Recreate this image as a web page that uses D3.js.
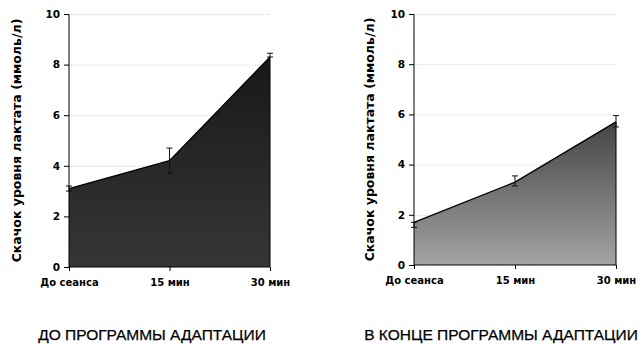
<!DOCTYPE html>
<html><head><meta charset="utf-8">
<script src="https://cdn.jsdelivr.net/npm/d3@7"></script>
<style>body{margin:0;background:#fff}svg{display:block}</style>
</head><body>
<svg id="c" width="642" height="344"></svg>
<script>
const categories = ["До сеанса", "15 мин", "30 мин"];
const beforeValues = [3.1, 4.2, 8.3];
const beforeErrLow = [3.0, 3.7, 8.3];
const beforeErrHigh = [3.2, 4.7, 8.45];
const afterValues = [1.7, 3.3, 5.7];
const afterErrLow = [1.5, 3.15, 5.5];
const afterErrHigh = [1.7, 3.55, 5.95];
const yTicks = [0, 2, 4, 6, 8, 10];
const yTitle = "Скачок уровня лактата (ммоль/л)";
const panelTitles = ["ДО ПРОГРАММЫ АДАПТАЦИИ", "В КОНЦЕ ПРОГРАММЫ АДАПТАЦИИ"];

const svg = d3.select("#c");
const defs = svg.append("defs");

const panels = [
  {x0: 69, x1: 270, y0: 267, y1: 14, vals: beforeValues, lo: beforeErrLow, hi: beforeErrHigh,
   gTop: "#181818", gBot: "#363636", titleX: 21, capX: 152, cap: panelTitles[0], id: "g1"},
  {x0: 414, x1: 616, y0: 265, y1: 14, vals: afterValues, lo: afterErrLow, hi: afterErrHigh,
   gTop: "#454545", gBot: "#a3a3a3", titleX: 374, capX: 501, cap: panelTitles[1], id: "g2"}
];

panels.forEach(p => {
  const x = d3.scalePoint().domain(categories).range([p.x0, p.x1]);
  const y = d3.scaleLinear().domain([0, 10]).range([p.y0, p.y1]);
  const g = svg.append("g");

  g.selectAll("line.grid").data(yTicks.filter(t => t > 0)).join("line")
    .attr("x1", p.x0).attr("x2", p.x1)
    .attr("y1", d => y(d) + 0.5).attr("y2", d => y(d) + 0.5)
    .attr("stroke", "#d4d4d4").attr("stroke-width", 1).attr("stroke-dasharray", "1,1");

  const grad = defs.append("linearGradient").attr("id", p.id)
    .attr("gradientUnits", "userSpaceOnUse")
    .attr("x1", 0).attr("x2", 0)
    .attr("y1", y(d3.max(p.vals))).attr("y2", y(0));
  grad.append("stop").attr("offset", 0).attr("stop-color", p.gTop);
  grad.append("stop").attr("offset", 1).attr("stop-color", p.gBot);

  const data = categories.map((c, i) => ({c, v: p.vals[i], lo: p.lo[i], hi: p.hi[i]}));
  const area = d3.area().x(d => x(d.c)).y0(y(0)).y1(d => y(d.v));
  g.append("path").datum(data).attr("d", area).attr("fill", `url(#${p.id})`);
  const line = d3.line().x(d => x(d.c)).y(d => y(d.v));
  g.append("path").datum(data).attr("d", line).attr("fill", "none")
    .attr("stroke", "#000").attr("stroke-width", 1.3);
  g.append("line").attr("x1", x(categories[2])).attr("x2", x(categories[2]))
    .attr("y1", y(0)).attr("y2", y(p.vals[2])).attr("stroke", "#000").attr("stroke-width", 1);

  const eb = g.selectAll("g.eb").data(data).join("g");
  eb.append("line").attr("x1", d => x(d.c)).attr("x2", d => x(d.c))
    .attr("y1", d => y(d.lo)).attr("y2", d => y(d.hi)).attr("stroke", "#111").attr("stroke-width", 1);
  eb.append("line").attr("x1", d => x(d.c) - 3).attr("x2", d => x(d.c) + 3)
    .attr("y1", d => y(d.hi)).attr("y2", d => y(d.hi)).attr("stroke", "#111").attr("stroke-width", 1);
  eb.append("line").attr("x1", d => x(d.c) - 3).attr("x2", d => x(d.c) + 3)
    .attr("y1", d => y(d.lo)).attr("y2", d => y(d.lo)).attr("stroke", "#111").attr("stroke-width", 1);

  const ya = g.append("g").attr("transform", `translate(${p.x0},0)`)
    .call(d3.axisLeft(y).tickValues(yTicks).tickSize(5).tickPadding(4).tickFormat(d3.format("d")));
  ya.select(".domain").attr("stroke", "#000").attr("d", `M-5,${p.y1 + 0.5}H0V${p.y0}`);
  ya.selectAll("text").attr("font-family", "DejaVu Sans").attr("font-weight", "bold")
    .attr("font-size", 10.5).attr("fill", "#000");

  const xa = g.append("g").attr("transform", `translate(0,${p.y0})`)
    .call(d3.axisBottom(x).tickSize(4).tickPadding(8));
  xa.select(".domain").attr("stroke", "#000").attr("d", `M${p.x0},0H${p.x1}`);
  xa.selectAll("text").attr("font-family", "DejaVu Sans").attr("font-weight", "bold")
    .attr("font-size", 10).attr("fill", "#000");

  svg.append("text")
    .attr("transform", `translate(${p.titleX},${(p.y0 + p.y1) / 2}) rotate(-90)`)
    .attr("text-anchor", "middle")
    .attr("font-family", "DejaVu Sans").attr("font-weight", "bold")
    .attr("font-size", 12.5).text(yTitle);

  svg.append("text").attr("x", p.capX).attr("y", 340).attr("text-anchor", "middle")
    .attr("font-family", "Liberation Sans, Arial, sans-serif").attr("font-size", 15.5)
    .attr("stroke", "#000").attr("stroke-width", 0.25)
    .text(p.cap);
});
</script>
</body></html>
